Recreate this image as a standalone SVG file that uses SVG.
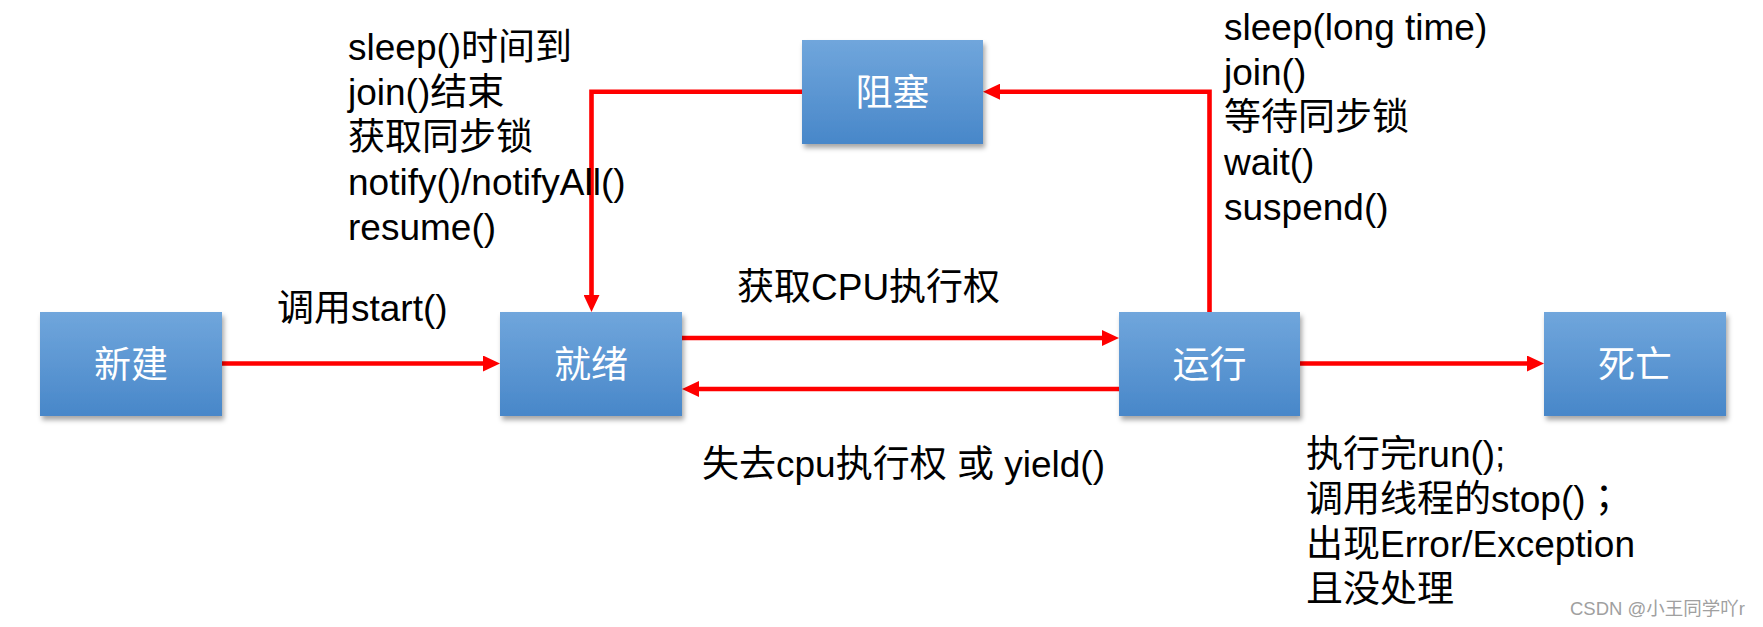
<svg xmlns="http://www.w3.org/2000/svg" width="1763" height="627" viewBox="0 0 1763 627">
<defs>
<linearGradient id="boxGrad" x1="0" y1="0" x2="0" y2="1">
<stop offset="0" stop-color="#70a6dc"/>
<stop offset="1" stop-color="#4887c9"/>
</linearGradient>
<filter id="shadow" x="-10%" y="-10%" width="125%" height="135%">
<feDropShadow dx="2" dy="4" stdDeviation="2.5" flood-color="#000" flood-opacity="0.35"/>
</filter>
<marker id="arrow" markerUnits="userSpaceOnUse" markerWidth="18" markerHeight="16" refX="5" refY="8" orient="auto">
<path d="M0,0 L17,8 L0,16 Z" fill="#ff0000"/>
</marker>
</defs>
<style>
.box { fill: url(#boxGrad); filter: url(#shadow); }
.boxlabel { font-family: "Liberation Sans", "Noto Sans CJK SC", sans-serif; font-size: 37px; fill: #ffffff; text-anchor: middle; }
.label { font-family: "Liberation Sans", "Noto Sans CJK SC", sans-serif; font-size: 37px; fill: #000000; }
.conn { fill: none; stroke: #ff0000; stroke-width: 4.6; marker-end: url(#arrow); }
.wm { font-family: "Liberation Sans", "Noto Sans CJK SC", sans-serif; font-size: 18.5px; fill: #a0a0a0; }
</style>
<rect width="1763" height="627" fill="#ffffff"/>

<g id="connectors">
<path class="conn" d="M222,363.5 H488"/>
<path class="conn" d="M682,338 H1107"/>
<path class="conn" d="M1119,389 H694"/>
<path class="conn" d="M1300,363.5 H1532"/>
<path class="conn" d="M1209.5,312 V91.7 H995"/>
<path class="conn" d="M802,91.7 H591.5 V300"/>
</g>

<g id="node-new">
<rect class="box" x="40" y="312" width="182" height="104"/>
<text class="boxlabel" x="131" y="378">新建</text>
</g>
<g id="node-ready">
<rect class="box" x="500" y="312" width="182" height="104"/>
<text class="boxlabel" x="591" y="378">就绪</text>
</g>
<g id="node-running">
<rect class="box" x="1119" y="312" width="181" height="104"/>
<text class="boxlabel" x="1209.5" y="378">运行</text>
</g>
<g id="node-dead">
<rect class="box" x="1544" y="312" width="182" height="104"/>
<text class="boxlabel" x="1635" y="378">死亡</text>
</g>
<g id="node-blocked">
<rect class="box" x="802" y="40" width="181" height="104"/>
<text class="boxlabel" x="892.5" y="106">阻塞</text>
</g>

<g id="labels">
<text class="label" x="277" y="321">调用start()</text>
<text class="label" x="737" y="300">获取CPU执行权</text>
<text class="label" x="702" y="477">失去cpu执行权 或 yield()</text>
<text class="label" x="348">
<tspan x="348" y="59.5">sleep()时间到</tspan>
<tspan x="348" y="104.5">join()结束</tspan>
<tspan x="348" y="149.5">获取同步锁</tspan>
<tspan x="348" y="194.5">notify()/notifyAll()</tspan>
<tspan x="348" y="239.5">resume()</tspan>
</text>
<text class="label" x="1224">
<tspan x="1224" y="40">sleep(long time)</tspan>
<tspan x="1224" y="85">join()</tspan>
<tspan x="1224" y="130">等待同步锁</tspan>
<tspan x="1224" y="175">wait()</tspan>
<tspan x="1224" y="220">suspend()</tspan>
</text>
<text class="label" x="1306">
<tspan x="1306" y="467">执行完run();</tspan>
<tspan x="1306" y="512">调用线程的stop()<tspan style="font-family: 'Noto Sans CJK TC', sans-serif">；</tspan></tspan>
<tspan x="1306" y="557">出现Error/Exception</tspan>
<tspan x="1306" y="602">且没处理</tspan>
</text>
<text class="wm" x="1570" y="615">CSDN @小王同学吖r</text>
</g>
</svg>
